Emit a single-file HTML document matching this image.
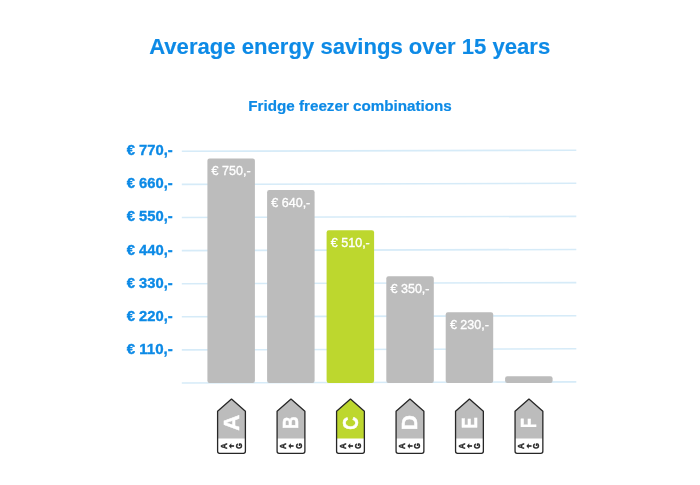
<!DOCTYPE html>
<html><head><meta charset="utf-8"><style>
html,body{margin:0;padding:0;background:#fff;width:700px;height:485px;overflow:hidden}
svg{display:block;will-change:transform}
text{font-family:"Liberation Sans",sans-serif}
.t{font-size:22.2px;font-weight:bold;fill:#0d8ae6;stroke:#0d8ae6;stroke-width:0.15px}
.st{font-size:15px;font-weight:bold;fill:#0d8ae6;stroke:#0d8ae6;stroke-width:0.2px}
.yl{font-size:15.1px;font-weight:bold;fill:#0d8ae6;stroke:#0d8ae6;stroke-width:0.35px}
.bl{font-size:13.1px;fill:#fff;stroke:#fff;stroke-width:0.35px}
.bg{font-size:22.5px;font-weight:bold;fill:#fff;stroke:#fff;stroke-width:0.5px}
.sm{font-size:8.5px;font-weight:bold;fill:#262626;stroke:#262626;stroke-width:0.4px}
</style></head><body>
<svg width="700" height="485" viewBox="0 0 700 485">
<text x="149.2" y="53.8" textLength="401" lengthAdjust="spacingAndGlyphs" class="t">Average energy savings over 15 years</text>
<text x="248.3" y="110.9" textLength="203.5" lengthAdjust="spacingAndGlyphs" class="st">Fridge freezer combinations</text>
<polygon points="181.8,150.52 576.3,149.38 576.3,150.98 181.8,152.12" fill="#d6ebf8"/>
<polygon points="181.8,183.62 576.3,182.48 576.3,184.08 181.8,185.22" fill="#d6ebf8"/>
<polygon points="181.8,216.72 576.3,215.58 576.3,217.18 181.8,218.32" fill="#d6ebf8"/>
<polygon points="181.8,249.82 576.3,248.68 576.3,250.28 181.8,251.42" fill="#d6ebf8"/>
<polygon points="181.8,282.92 576.3,281.78 576.3,283.38 181.8,284.52" fill="#d6ebf8"/>
<polygon points="181.8,316.02 576.3,314.88 576.3,316.48 181.8,317.62" fill="#d6ebf8"/>
<polygon points="181.8,349.12 576.3,347.98 576.3,349.58 181.8,350.72" fill="#d6ebf8"/>
<polygon points="181.8,382.22 576.3,381.08 576.3,382.68 181.8,383.82" fill="#d6ebf8"/>
<text x="126.8" y="155.25" textLength="46.0" lengthAdjust="spacingAndGlyphs" class="yl">€ 770,-</text>
<text x="126.8" y="188.35" textLength="46.0" lengthAdjust="spacingAndGlyphs" class="yl">€ 660,-</text>
<text x="126.8" y="221.45" textLength="46.0" lengthAdjust="spacingAndGlyphs" class="yl">€ 550,-</text>
<text x="126.8" y="254.55" textLength="46.0" lengthAdjust="spacingAndGlyphs" class="yl">€ 440,-</text>
<text x="126.8" y="287.65" textLength="46.0" lengthAdjust="spacingAndGlyphs" class="yl">€ 330,-</text>
<text x="126.8" y="320.75" textLength="46.0" lengthAdjust="spacingAndGlyphs" class="yl">€ 220,-</text>
<text x="126.8" y="353.85" textLength="46.0" lengthAdjust="spacingAndGlyphs" class="yl">€ 110,-</text>
<rect x="207.4" y="158.6" width="47.5" height="224.30" rx="2.2" fill="#bcbcbc"/>
<text x="211.60" y="175.20" textLength="39.0" lengthAdjust="spacingAndGlyphs" class="bl">€ 750,-</text>
<rect x="267.1" y="190.1" width="47.5" height="192.80" rx="2.2" fill="#bcbcbc"/>
<text x="271.30" y="206.70" textLength="39.0" lengthAdjust="spacingAndGlyphs" class="bl">€ 640,-</text>
<rect x="326.6" y="230.3" width="47.5" height="152.60" rx="2.2" fill="#bdd72e"/>
<text x="330.80" y="246.90" textLength="39.0" lengthAdjust="spacingAndGlyphs" class="bl">€ 510,-</text>
<rect x="386.3" y="276.3" width="47.5" height="106.60" rx="2.2" fill="#bcbcbc"/>
<text x="390.50" y="292.90" textLength="39.0" lengthAdjust="spacingAndGlyphs" class="bl">€ 350,-</text>
<rect x="445.7" y="312.2" width="47.5" height="70.70" rx="2.2" fill="#bcbcbc"/>
<text x="449.90" y="328.80" textLength="39.0" lengthAdjust="spacingAndGlyphs" class="bl">€ 230,-</text>
<rect x="505.1" y="376.3" width="47.5" height="6.60" rx="2.2" fill="#bcbcbc"/>
<path d="M217.60,411.2 L231.50,399.1 L245.40,411.2 L245.40,451.3 Q245.40,453.3 243.40,453.3 L219.60,453.3 Q217.60,453.3 217.60,451.3 Z" fill="#fff"/>
<path d="M217.60,438.5 L217.60,411.2 L231.50,399.1 L245.40,411.2 L245.40,438.5 Z" fill="#bcbcbc"/>
<path d="M217.60,411.2 L231.50,399.1 L245.40,411.2 L245.40,451.3 Q245.40,453.3 243.40,453.3 L219.60,453.3 Q217.60,453.3 217.60,451.3 Z" fill="none" stroke="#262626" stroke-width="1.3" stroke-linejoin="round"/>
<text transform="translate(231.20,422.83) rotate(-90) scale(0.98,1)" x="0" y="7.74" text-anchor="middle" class="bg">A</text>
<text transform="translate(224.00,446) rotate(-90) scale(0.95,1)" x="0" y="2.92" text-anchor="middle" class="sm">A</text>
<text transform="translate(239.10,446) rotate(-90) scale(0.85,1)" x="0" y="2.92" text-anchor="middle" class="sm">G</text>
<path d="M228.90,446 L231.30,443.2 L231.30,448.8 Z" fill="#262626"/>
<rect x="230.70" y="445.2" width="3.4" height="1.6" fill="#262626"/>
<path d="M277.09,411.2 L290.99,399.1 L304.89,411.2 L304.89,451.3 Q304.89,453.3 302.89,453.3 L279.09,453.3 Q277.09,453.3 277.09,451.3 Z" fill="#fff"/>
<path d="M277.09,438.5 L277.09,411.2 L290.99,399.1 L304.89,411.2 L304.89,438.5 Z" fill="#bcbcbc"/>
<path d="M277.09,411.2 L290.99,399.1 L304.89,411.2 L304.89,451.3 Q304.89,453.3 302.89,453.3 L279.09,453.3 Q277.09,453.3 277.09,451.3 Z" fill="none" stroke="#262626" stroke-width="1.3" stroke-linejoin="round"/>
<text transform="translate(290.69,422.74) rotate(-90) scale(0.78,1)" x="0" y="7.74" text-anchor="middle" class="bg">B</text>
<text transform="translate(283.49,446) rotate(-90) scale(0.95,1)" x="0" y="2.92" text-anchor="middle" class="sm">A</text>
<text transform="translate(298.59,446) rotate(-90) scale(0.85,1)" x="0" y="2.92" text-anchor="middle" class="sm">G</text>
<path d="M288.39,446 L290.79,443.2 L290.79,448.8 Z" fill="#262626"/>
<rect x="290.19" y="445.2" width="3.4" height="1.6" fill="#262626"/>
<path d="M336.58,411.2 L350.48,399.1 L364.38,411.2 L364.38,451.3 Q364.38,453.3 362.38,453.3 L338.58,453.3 Q336.58,453.3 336.58,451.3 Z" fill="#fff"/>
<path d="M336.58,438.5 L336.58,411.2 L350.48,399.1 L364.38,411.2 L364.38,438.5 Z" fill="#bdd72e"/>
<path d="M336.58,411.2 L350.48,399.1 L364.38,411.2 L364.38,451.3 Q364.38,453.3 362.38,453.3 L338.58,453.3 Q336.58,453.3 336.58,451.3 Z" fill="none" stroke="#262626" stroke-width="1.3" stroke-linejoin="round"/>
<text transform="translate(350.18,423.27) rotate(-90) scale(0.8,1)" x="0" y="7.74" text-anchor="middle" class="bg">C</text>
<text transform="translate(342.98,446) rotate(-90) scale(0.95,1)" x="0" y="2.92" text-anchor="middle" class="sm">A</text>
<text transform="translate(358.08,446) rotate(-90) scale(0.85,1)" x="0" y="2.92" text-anchor="middle" class="sm">G</text>
<path d="M347.88,446 L350.28,443.2 L350.28,448.8 Z" fill="#262626"/>
<rect x="349.68" y="445.2" width="3.4" height="1.6" fill="#262626"/>
<path d="M396.07,411.2 L409.97,399.1 L423.87,411.2 L423.87,451.3 Q423.87,453.3 421.87,453.3 L398.07,453.3 Q396.07,453.3 396.07,451.3 Z" fill="#fff"/>
<path d="M396.07,438.5 L396.07,411.2 L409.97,399.1 L423.87,411.2 L423.87,438.5 Z" fill="#bcbcbc"/>
<path d="M396.07,411.2 L409.97,399.1 L423.87,411.2 L423.87,451.3 Q423.87,453.3 421.87,453.3 L398.07,453.3 Q396.07,453.3 396.07,451.3 Z" fill="none" stroke="#262626" stroke-width="1.3" stroke-linejoin="round"/>
<text transform="translate(409.67,422.61) rotate(-90) scale(0.935,1)" x="0" y="7.74" text-anchor="middle" class="bg">D</text>
<text transform="translate(402.47,446) rotate(-90) scale(0.95,1)" x="0" y="2.92" text-anchor="middle" class="sm">A</text>
<text transform="translate(417.57,446) rotate(-90) scale(0.85,1)" x="0" y="2.92" text-anchor="middle" class="sm">G</text>
<path d="M407.37,446 L409.77,443.2 L409.77,448.8 Z" fill="#262626"/>
<rect x="409.17" y="445.2" width="3.4" height="1.6" fill="#262626"/>
<path d="M455.56,411.2 L469.46,399.1 L483.36,411.2 L483.36,451.3 Q483.36,453.3 481.36,453.3 L457.56,453.3 Q455.56,453.3 455.56,451.3 Z" fill="#fff"/>
<path d="M455.56,438.5 L455.56,411.2 L469.46,399.1 L483.36,411.2 L483.36,438.5 Z" fill="#bcbcbc"/>
<path d="M455.56,411.2 L469.46,399.1 L483.36,411.2 L483.36,451.3 Q483.36,453.3 481.36,453.3 L457.56,453.3 Q455.56,453.3 455.56,451.3 Z" fill="none" stroke="#262626" stroke-width="1.3" stroke-linejoin="round"/>
<text transform="translate(469.16,422.88) rotate(-90) scale(0.74,1)" x="0" y="7.74" text-anchor="middle" class="bg">E</text>
<text transform="translate(461.96,446) rotate(-90) scale(0.95,1)" x="0" y="2.92" text-anchor="middle" class="sm">A</text>
<text transform="translate(477.06,446) rotate(-90) scale(0.85,1)" x="0" y="2.92" text-anchor="middle" class="sm">G</text>
<path d="M466.86,446 L469.26,443.2 L469.26,448.8 Z" fill="#262626"/>
<rect x="468.66" y="445.2" width="3.4" height="1.6" fill="#262626"/>
<path d="M515.05,411.2 L528.95,399.1 L542.85,411.2 L542.85,451.3 Q542.85,453.3 540.85,453.3 L517.05,453.3 Q515.05,453.3 515.05,451.3 Z" fill="#fff"/>
<path d="M515.05,438.5 L515.05,411.2 L528.95,399.1 L542.85,411.2 L542.85,438.5 Z" fill="#bcbcbc"/>
<path d="M515.05,411.2 L528.95,399.1 L542.85,411.2 L542.85,451.3 Q542.85,453.3 540.85,453.3 L517.05,453.3 Q515.05,453.3 515.05,451.3 Z" fill="none" stroke="#262626" stroke-width="1.3" stroke-linejoin="round"/>
<text transform="translate(528.65,423.24) rotate(-90) scale(0.71,1)" x="0" y="7.74" text-anchor="middle" class="bg">F</text>
<text transform="translate(521.45,446) rotate(-90) scale(0.95,1)" x="0" y="2.92" text-anchor="middle" class="sm">A</text>
<text transform="translate(536.55,446) rotate(-90) scale(0.85,1)" x="0" y="2.92" text-anchor="middle" class="sm">G</text>
<path d="M526.35,446 L528.75,443.2 L528.75,448.8 Z" fill="#262626"/>
<rect x="528.15" y="445.2" width="3.4" height="1.6" fill="#262626"/>
</svg>
</body></html>
